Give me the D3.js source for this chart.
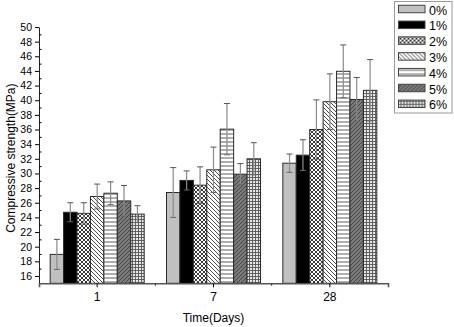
<!DOCTYPE html>
<html>
<head>
<meta charset="utf-8">
<script src="https://cdn.jsdelivr.net/npm/d3@7"></script>
<style>
  body { margin: 0; background: #fff; }
  text { font-family: "Liberation Sans", Arial, sans-serif; fill: #000; }
</style>
</head>
<body>
<div id="drawing"></div>
<script>
const width = 454;
const height = 327;

// categories and series
const days = ["1", "7", "28"];
const dosages = ["0%", "1%", "2%", "3%", "4%", "5%", "6%"];

// mean compressive strength (MPa), one array per curing age, in dosage order
const day1Mean = [18.95, 24.7, 24.55, 26.85, 27.3, 26.25, 24.45];
const day7Mean = [27.4, 29.05, 28.4, 30.5, 36.05, 29.9, 32.0];
const day28Mean = [31.4, 32.5, 36.0, 39.8, 43.95, 40.1, 41.35];

// error bar half-widths
const day1Err = [2.05, 1.3, 1.45, 1.7, 1.55, 2.1, 1.15];
const day7Err = [3.4, 1.3, 2.5, 3.1, 3.5, 1.45, 2.2];
const day28Err = [1.25, 2.1, 4.05, 3.8, 3.6, 3.0, 4.2];

const yTicks = d3.range(16, 51, 2);

const means = [day1Mean, day7Mean, day28Mean];
const errs = [day1Err, day7Err, day28Err];

// flatten to one row per bar
let bars = [];
days.forEach((day, i) => {
  dosages.forEach((dose, j) => {
    bars.push({day: day, dose: dose, idx: j, value: means[i][j], err: errs[i][j]});
  });
});

const svg = d3.select("#drawing").append("svg")
  .attr("width", width)
  .attr("height", height);

// fill patterns for the dosages
const defs = svg.append("defs");

function addPattern(id, size, bg, draw) {
  let p = defs.append("pattern")
    .attr("id", id)
    .attr("patternUnits", "userSpaceOnUse")
    .attr("width", size)
    .attr("height", size);
  p.append("rect").attr("width", size).attr("height", size).attr("fill", bg);
  draw(p);
}

// 2% crosshatch (small diamonds)
addPattern("p2", 4, "#fff", (p) => {
  p.append("path").attr("d", "M0,0L4,4M4,0L0,4").attr("stroke", "#222").attr("stroke-width", 0.9);
});
// 3% back diagonal
addPattern("p3", 4, "#fff", (p) => {
  p.append("path").attr("d", "M-1,-1L5,5M-1,3L1,5M3,-1L5,1").attr("stroke", "#222").attr("stroke-width", 0.8);
});
// 4% horizontal lines
addPattern("p4", 4, "#fff", (p) => {
  p.append("path").attr("d", "M0,2L4,2").attr("stroke", "#333").attr("stroke-width", 0.8);
});
// 5% dark grey with forward diagonal
addPattern("p5", 4, "#7a7a7a", (p) => {
  p.append("path").attr("d", "M-1,5L5,-1M-1,1L1,-1M3,5L5,3").attr("stroke", "#3a3a3a").attr("stroke-width", 0.8);
});
// 6% grid
addPattern("p6", 3, "#e8e8e8", (p) => {
  p.append("path").attr("d", "M0,0.5L3,0.5M0.5,0L0.5,3").attr("stroke", "#555").attr("stroke-width", 0.9);
});

const fills = ["#c0c0c0", "#000", "url(#p2)", "url(#p3)", "url(#p4)", "url(#p5)", "url(#p6)"];

const plotLeft = 39, plotRight = 388, plotTop = 27, plotBottom = 283.3;

const xScale = d3.scaleBand()
  .domain(days)
  .range([plotLeft, plotRight])
  .paddingInner(0.192)
  .paddingOuter(0.096);

const xSub = d3.scaleBand()
  .domain(dosages)
  .range([0, xScale.bandwidth()]);

const yScale = d3.scaleLinear()
  .domain([15, 50])
  .range([plotBottom, plotTop]);

// bars
svg.append("g").selectAll(".bar")
  .data(bars)
  .enter()
  .append("rect")
    .attr("class", "bar")
    .attr("x", (d) => xScale(d.day) + xSub(d.dose))
    .attr("y", (d) => yScale(d.value))
    .attr("width", xSub.bandwidth())
    .attr("height", (d) => yScale(15) - yScale(d.value))
    .attr("fill", (d) => fills[d.idx])
    .attr("stroke", "#2a2a2a")
    .attr("stroke-width", 1);

// error bars
const errG = svg.append("g").selectAll(".err")
  .data(bars)
  .enter()
  .append("g")
    .attr("class", "err")
    .attr("transform", (d) => `translate(${xScale(d.day) + xSub(d.dose) + xSub.bandwidth() / 2},0)`);

errG.append("line")
  .attr("y1", (d) => yScale(d.value - d.err))
  .attr("y2", (d) => yScale(d.value + d.err))
  .attr("stroke", "#8a8a8a")
  .attr("stroke-width", 1.2);

errG.append("line")
  .attr("x1", -3).attr("x2", 3)
  .attr("y1", (d) => yScale(d.value + d.err))
  .attr("y2", (d) => yScale(d.value + d.err))
  .attr("stroke", "#555")
  .attr("stroke-width", 1);

errG.append("line")
  .attr("x1", -3).attr("x2", 3)
  .attr("y1", (d) => yScale(d.value - d.err))
  .attr("y2", (d) => yScale(d.value - d.err))
  .attr("stroke", "#666")
  .attr("stroke-width", 1);

// y axis
const yAxis = svg.append("g")
  .attr("transform", `translate(${plotLeft},0)`)
  .call(d3.axisLeft(yScale).tickValues(yTicks).tickSize(4).tickSizeOuter(0).tickPadding(3));
yAxis.selectAll("text").style("font-size", "10.5px").style("font-family", "Liberation Sans, Arial");
yAxis.select(".domain").attr("stroke", "#222");

// minor ticks point inward
svg.append("g")
  .attr("transform", `translate(${plotLeft},0)`)
  .call(d3.axisRight(yScale).tickValues(d3.range(17, 50, 2)).tickSize(2.5).tickSizeOuter(0).tickFormat(""))
  .select(".domain").remove();

// x axis
const xAxis = svg.append("g")
  .attr("transform", `translate(0,${plotBottom})`)
  .call(d3.axisBottom(xScale).tickSize(4).tickSizeOuter(4).tickPadding(5));
xAxis.selectAll("text").style("font-size", "12px").style("font-family", "Liberation Sans, Arial");
xAxis.select(".domain").attr("stroke", "#555").attr("stroke-width", 1.6);

// minor ticks between days
const mids = [];
for (let i = 0; i < days.length - 1; i++) {
  mids.push((xScale(days[i]) + xScale(days[i + 1]) + xScale.bandwidth()) / 2);
}
svg.append("g").selectAll(".minor")
  .data(mids)
  .enter()
  .append("line")
    .attr("x1", (d) => d).attr("x2", (d) => d)
    .attr("y1", plotBottom).attr("y2", plotBottom + 2.5)
    .attr("stroke", "#333");

// axis titles
svg.append("text")
  .attr("transform", `translate(15,${(plotTop + plotBottom) / 2 + 3}) rotate(-90)`)
  .attr("text-anchor", "middle")
  .style("font-size", "12px")
  .text("Compressive strength(MPa)");

svg.append("text")
  .attr("x", xScale("7") + xScale.bandwidth() / 2)
  .attr("y", 322)
  .attr("text-anchor", "middle")
  .style("font-size", "12px")
  .text("Time(Days)");

// legend
const legend = svg.append("g").attr("transform", "translate(394.5,1.5)");
legend.append("rect")
  .attr("width", 57.5).attr("height", 111.5)
  .attr("fill", "#fff")
  .attr("stroke", "#999")
  .attr("stroke-width", 1);

const legendItem = legend.selectAll(".item")
  .data(dosages)
  .enter()
  .append("g")
    .attr("class", "item")
    .attr("transform", (d, i) => `translate(0,${7.5 + i * 15.8})`);

legendItem.append("rect")
  .attr("x", 4).attr("y", -3.75)
  .attr("width", 26.5).attr("height", 7.5)
  .attr("fill", (d, i) => fills[i])
  .attr("stroke", "#444")
  .attr("stroke-width", 1);

legendItem.append("text")
  .attr("x", 34.5)
  .attr("y", 5.5)
  .style("font-size", "12.5px")
  .text((d) => d);
</script>
</body>
</html>
